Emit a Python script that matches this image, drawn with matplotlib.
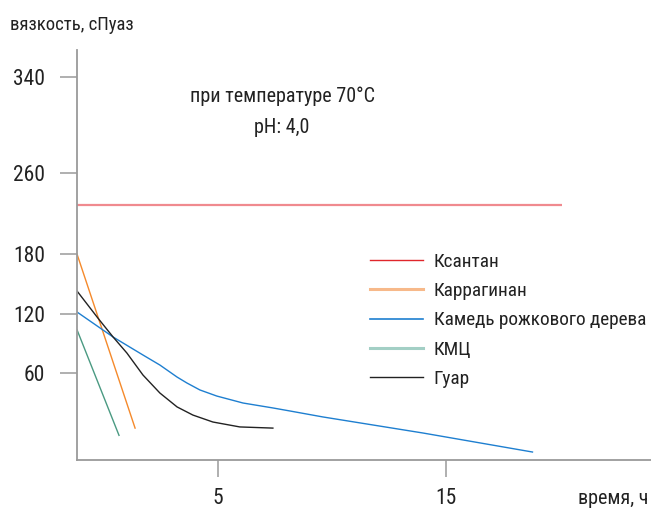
import numpy as np
import matplotlib
matplotlib.use("Agg")
from matplotlib import pyplot as plt
from matplotlib.lines import Line2D

plt.rcParams['font.family'] = ['Roboto Condensed', 'Roboto', 'DejaVu Sans']
plt.rcParams['font.stretch'] = 'condensed'

# Data (time in hours, viscosity in cP)
xanthan_t = [0, 20.1]
xanthan_v = [228, 228]

carrageenan_t = [0, 2.06]
carrageenan_v = [180, 22]

locust_t = [0, 1.28, 2.34, 2.94, 3.55, 3.90, 4.36, 4.96, 6.10, 7.41, 8.16, 9.6, 14.0, 18.8]
locust_v = [122, 96.6, 78.3, 68.1, 57.2, 53.1, 48.3, 44.1, 39.3, 35.9, 33.8, 29.7, 18.6, 5.5]

cmc_t = [0, 1.49]
cmc_v = [104, 17]

guar_t = [0, 0.74, 1.28, 1.77, 2.34, 2.94, 3.55, 4.11, 4.82, 5.96, 7.41]
guar_v = [143, 115.9, 96.6, 80.3, 58.6, 46.2, 36.6, 31, 26.2, 22.8, 22]

labels = ['Ксантан', 'Каррагинан', 'Камедь рожкового дерева', 'КМЦ', 'Гуар']
yticks = [60, 120, 180, 260, 340]
xticks = [5, 15]

# the drawing uses uneven tick spacing, so both axes use a piecewise scale
x_nodes = [-10, 0, 5, 15, 100]
x_pos = [-282, 0, 141, 369, 369 + 85 * 22.8]
y_nodes = [-100, 0, 60, 120, 180, 260, 340, 1000]
y_pos = [-145, 0, 87, 146, 206, 287, 383, 383 + 660 * 1.2]

def fx(v):
    return np.interp(v, x_nodes, x_pos)

def ix(p):
    return np.interp(p, x_pos, x_nodes)

def fy(v):
    return np.interp(v, y_nodes, y_pos)

def iy(p):
    return np.interp(p, y_pos, y_nodes)

W, H = 651, 509
fig = plt.figure(figsize=(W / 100, H / 100), dpi=100)
ax = fig.add_axes([77 / W, 1 - 460 / H, 1 - 77 / W, 410 / H])
ax.set_xscale('function', functions=(fx, ix))
ax.set_yscale('function', functions=(fy, iy))

ax.plot(xanthan_t, xanthan_v, color='#f08a8f', lw=1.6, solid_capstyle='butt')
ax.plot(carrageenan_t, carrageenan_v, color='#f5892a', lw=1.0)
ax.plot(locust_t, locust_v, color='#1e7fd0', lw=1.0)
ax.plot(cmc_t, cmc_v, color='#4a9a82', lw=1.0)
ax.plot(guar_t, guar_v, color='#222222', lw=1.0)

ax.set_xlim(0, 24.0)
ax.set_ylim(0, 362.5)
ax.set_xticks(xticks)
ax.set_yticks(yticks)
ax.xaxis.set_minor_locator(matplotlib.ticker.NullLocator())
ax.yaxis.set_minor_locator(matplotlib.ticker.NullLocator())
ax.set_xticklabels([str(t) for t in xticks])
ax.set_yticklabels([str(t) for t in yticks])

for s in ['top', 'right']:
    ax.spines[s].set_visible(False)
for s in ['left', 'bottom']:
    ax.spines[s].set_color('#9a9a9a')
    ax.spines[s].set_linewidth(1.3)
ax.tick_params(axis='both', direction='out', length=12, width=1.1, color='#9a9a9a',
               labelsize=15.5, labelcolor='#222222')
ax.tick_params(axis='y', pad=10.8)
ax.tick_params(axis='x', pad=8)

# legend with its own (lighter) swatches, as in the picture
handles = [
    Line2D([], [], color='#e0262b', lw=1.0),
    Line2D([], [], color='#f7b98a', lw=2.2),
    Line2D([], [], color='#1e7fd0', lw=1.2),
    Line2D([], [], color='#a3cfc5', lw=2.2),
    Line2D([], [], color='#222222', lw=1.0),
]
ax.legend(handles, labels, loc='upper left', bbox_to_anchor=(370 / W, 1 - 253 / H),
          bbox_transform=fig.transFigure, frameon=False, fontsize=13.9,
          handlelength=2.75, handletextpad=0.55, labelspacing=0.58,
          borderpad=0, borderaxespad=0, labelcolor='#222222')

fig.text(10 / W, 1 - 25 / H, 'вязкость, сПуаз', fontsize=13.5, color='#222222',
         ha='left', va='center')
fig.text(648 / W, 1 - 499 / H, 'время, ч', fontsize=14.5, color='#222222',
         ha='right', va='center')
fig.text(282 / W, 1 - 96 / H, 'при температуре 70°С', fontsize=14.5, color='#222222',
         ha='center', va='center')
fig.text(282 / W, 1 - 127 / H, 'pH: 4,0', fontsize=14.5, color='#222222',
         ha='center', va='center')

fig.savefig('out.png', dpi=100)
